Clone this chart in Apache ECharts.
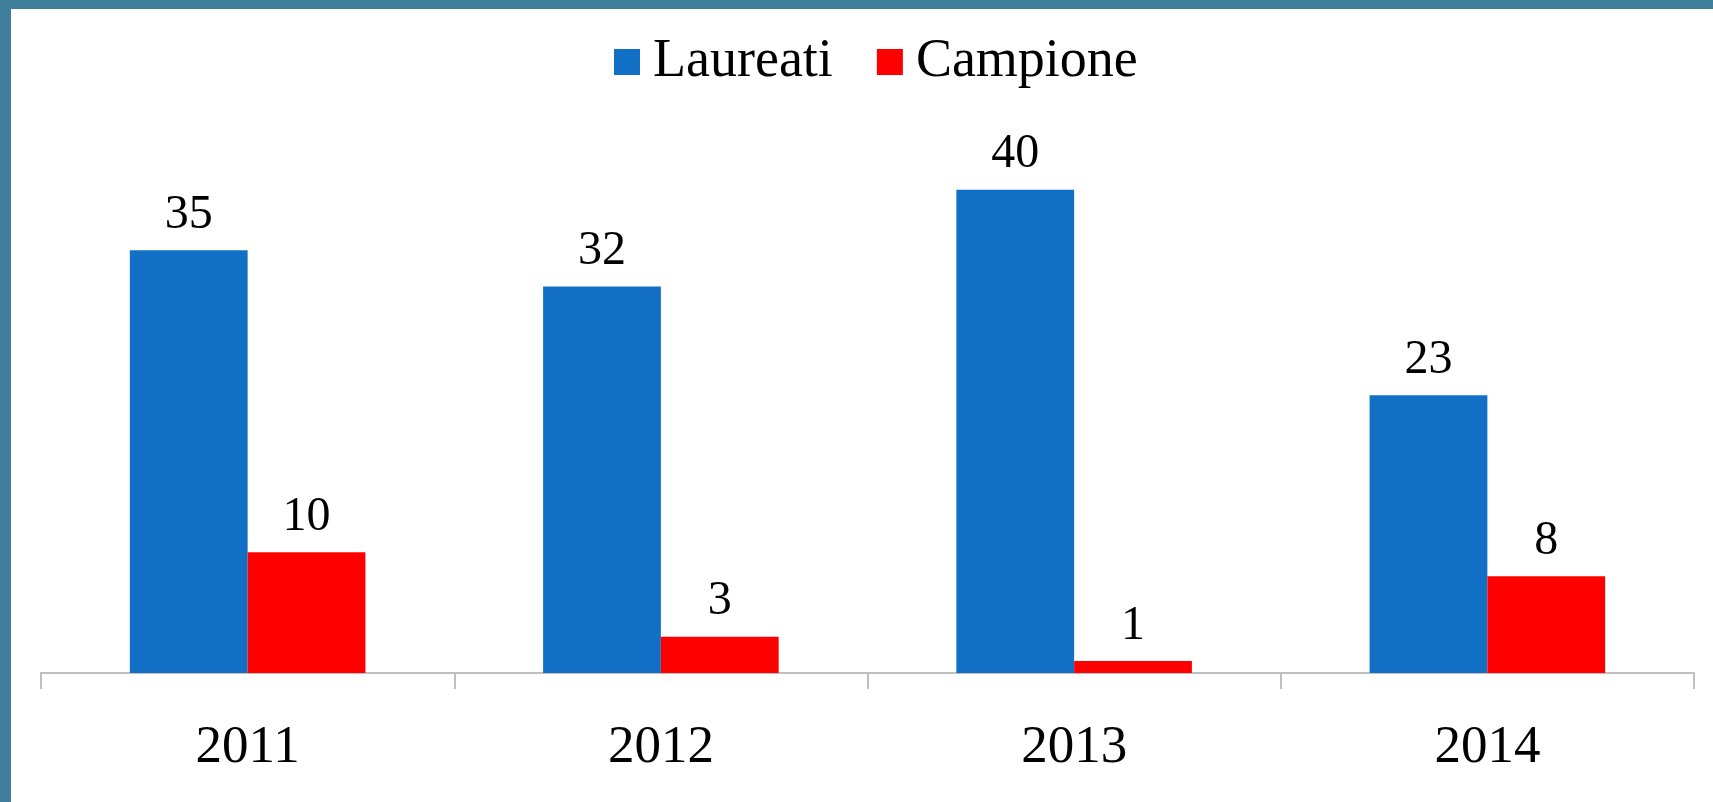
<!DOCTYPE html>
<html>
<head>
<meta charset="utf-8">
<script src="https://cdn.jsdelivr.net/npm/echarts@6/dist/echarts.min.js"></script>
<style>
html,body{margin:0;padding:0;background:#fff;}
#chart{width:1713px;height:802px;}
</style>
</head>
<body>
<div id="chart"></div>
<script>
const categories = ['2011', '2012', '2013', '2014'];
const laureati = [35, 32, 40, 23];
const campione = [10, 3, 1, 8];
const seriesNames = ['Laureati', 'Campione'];

const FONT = '"Liberation Serif", "Times New Roman", serif';
const chart = echarts.init(document.getElementById('chart'), null, {renderer: 'canvas'});
chart.setOption({
  backgroundColor: '#ffffff',
  animation: false,
  textStyle: {fontFamily: FONT},
  graphic: [
    {type: 'rect', left: 0, top: 0, shape: {width: 1713, height: 9}, style: {fill: '#3f7f9c'}, z: 100},
    {type: 'rect', left: 0, top: 0, shape: {width: 11, height: 802}, style: {fill: '#3f7f9c'}, z: 100}
  ],
  legend: {
    data: seriesNames,
    top: 35,
    left: 614,
    padding: 0,
    icon: 'rect',
    itemWidth: 26,
    itemHeight: 26,
    itemGap: 44,
    textStyle: {fontFamily: FONT, fontSize: 54, color: '#000', padding: [0, 0, 0, 8]}
  },
  grid: {left: 41, right: 19, top: 69, bottom: 129, containLabel: false},
  xAxis: {
    type: 'category',
    data: categories,
    axisLine: {lineStyle: {color: '#bfbfbf', width: 2}},
    axisTick: {show: true, length: 16, lineStyle: {color: '#bfbfbf', width: 2}},
    axisLabel: {fontFamily: FONT, fontSize: 53, color: '#000', margin: 49}
  },
  yAxis: {
    type: 'value',
    min: 0,
    max: 50,
    show: false,
    splitLine: {show: false}
  },
  series: [
    {
      name: seriesNames[0],
      type: 'bar',
      data: laureati,
      barGap: '0%',
      barCategoryGap: '43%',
      itemStyle: {color: '#1170c6'},
      label: {show: true, position: 'top', distance: 11, fontFamily: FONT, fontSize: 48, color: '#000'}
    },
    {
      name: seriesNames[1],
      type: 'bar',
      data: campione,
      barGap: '0%',
      barCategoryGap: '43%',
      itemStyle: {color: '#ff0000'},
      label: {show: true, position: 'top', distance: 11, fontFamily: FONT, fontSize: 48, color: '#000'}
    }
  ]
});
</script>
</body>
</html>
